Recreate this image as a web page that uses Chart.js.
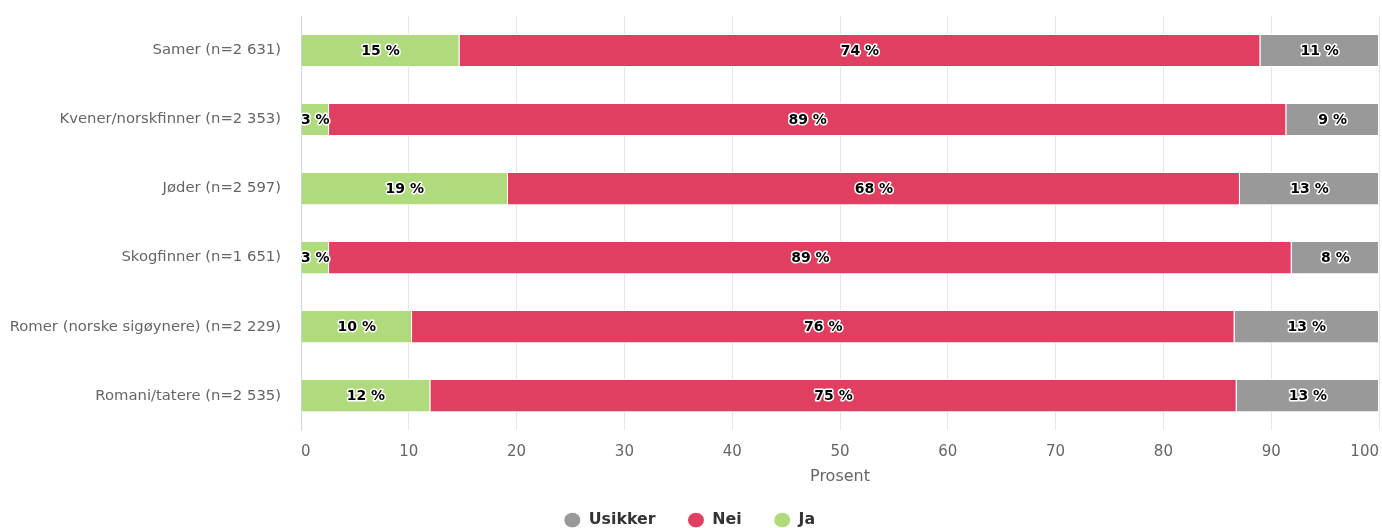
<!DOCTYPE html>
<html>
<head>
<meta charset="utf-8">
<script src="https://cdn.jsdelivr.net/npm/chart.js@4/dist/chart.umd.min.js"></script>
<style>
    body { margin: 0; overflow: hidden; background: #fff; }
    #wrap { width: 1382px; height: 538px; }
</style>
</head>
<body>
<div id="wrap"><canvas id="js--chart"></canvas></div>
<script>
// data
const grupper = ["Samer (n=2 631)", "Kvener/norskfinner (n=2 353)", "Jøder (n=2 597)", "Skogfinner (n=1 651)", "Romer (norske sigøynere) (n=2 229)", "Romani/tatere (n=2 535)"];
const ja = [14.7, 2.6, 19.2, 2.6, 10.3, 12.0];
const nei = [74.3, 88.8, 67.9, 89.3, 76.3, 74.8];
const usikker = [11.0, 8.6, 12.9, 8.1, 13.4, 13.2];
const xTicks = [0, 10, 20, 30, 40, 50, 60, 70, 80, 90, 100];

const canvas = document.getElementById("js--chart");

// labels in the bars, black text with white outline
const labelPlugin = {
    id: "barLabels",
    afterDatasetsDraw(chart) {
        const ctx = chart.ctx;
        ctx.save();
        ctx.font = "bold 14px 'DejaVu Sans'";
        ctx.textAlign = "center";
        ctx.textBaseline = "middle";
        ctx.lineJoin = "round";
        chart.data.datasets.forEach(function(ds, i) {
            const meta = chart.getDatasetMeta(i);
            meta.data.forEach(function(bar, j) {
                const p = bar.getCenterPoint();
                const txt = Math.round(ds.data[j]) + " %";
                ctx.strokeStyle = "#fff";
                ctx.lineWidth = 3;
                ctx.strokeText(txt, p.x, p.y + 1);
                ctx.fillStyle = "#000";
                ctx.fillText(txt, p.x, p.y + 1);
            });
        });
        ctx.restore();
    }
};

const data = {
    labels: grupper,
    datasets: [{
        label: "Ja",
        data: ja,
        backgroundColor: "rgb(176, 219, 124)",
        borderColor: "#fff",
        borderWidth: 1
    }, {
        label: "Nei",
        data: nei,
        backgroundColor: "rgb(224, 63, 97)",
        borderColor: "#fff",
        borderWidth: 1
    }, {
        label: "Usikker",
        data: usikker,
        backgroundColor: "rgb(153, 153, 153)",
        borderColor: "#fff",
        borderWidth: 1
    }]
};

const config = {
    type: "bar",
    data: data,
    plugins: [labelPlugin],
    options: {
        indexAxis: "y",
        animation: false,
        responsive: true,
        maintainAspectRatio: false,
        categoryPercentage: 1,
        barPercentage: 0.48,
        layout: {
            padding: { top: 16, right: 3, left: 0, bottom: 0 }
        },
        scales: {
            x: {
                stacked: true,
                min: 0,
                max: 100,
                afterBuildTicks: function(scale) {
                    scale.ticks = xTicks.map(v => ({ value: v }));
                },
                afterFit: function(scale) {
                    scale.paddingLeft = 0;
                    scale.paddingRight = 0;
                    scale.height = 50;
                },
                grid: { color: "#e6e6e6", drawTicks: false },
                border: { display: false },
                ticks: {
                    color: "#666",
                    font: { family: "DejaVu Sans", size: 15 },
                    padding: 13,
                    align: "inner"
                },
                title: {
                    display: true,
                    text: "Prosent",
                    color: "#666",
                    font: { family: "DejaVu Sans", size: 16 },
                    padding: { top: 0, bottom: -6.6 }
                }
            },
            y: {
                stacked: true,
                grid: { display: false, drawTicks: false },
                border: { color: "#ccd6eb", width: 1 },
                afterFit: function(scale) {
                    scale.width = 301;
                    scale.paddingTop = 0;
                    scale.paddingBottom = 0;
                },
                ticks: {
                    color: "#666",
                    font: { family: "DejaVu Sans", size: 14.8 },
                    padding: 20
                }
            }
        },
        plugins: {
            legend: {
                position: "bottom",
                reverse: true,
                labels: {
                    usePointStyle: true,
                    pointStyle: "circle",
                    pointStyleWidth: 17,
                    boxHeight: 11,
                    padding: 32,
                    color: "#333",
                    font: { family: "DejaVu Sans", size: 15.8, weight: "bold" }
                }
            },
            tooltip: { enabled: false }
        }
    }
};

myChart = new Chart(canvas, config);
</script>
</body>
</html>
